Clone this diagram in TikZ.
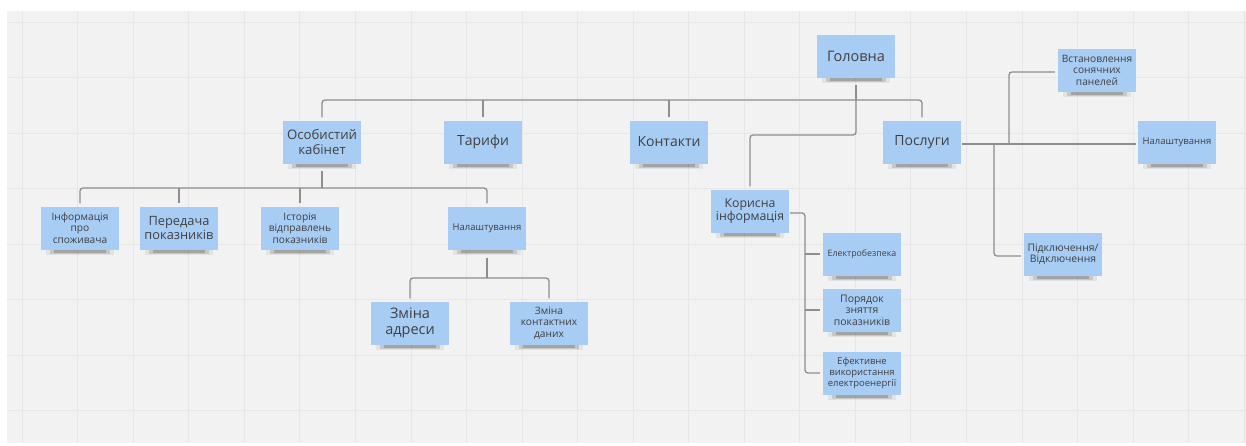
\documentclass[tikz,border=0pt]{standalone}
\usepackage{fontspec}
\setmainfont{Open Sans}
\usetikzlibrary{calc}
\definecolor{canvas}{HTML}{F2F2F2}
\definecolor{gridc}{HTML}{E7E7E7}
\definecolor{sticky}{HTML}{A8CDF5}
\definecolor{txt}{HTML}{404040}
\definecolor{linec}{HTML}{8E8E8E}
\pgfdeclarelayer{bg}
\pgfsetlayers{bg,main}
\tikzset{
  note/.style={rectangle, fill=sticky, minimum width=78pt, minimum height=43pt,
    inner sep=1pt, align=center, text=txt},
  fbig/.style={font=\fontsize{14}{16}\selectfont},
  fmid/.style={font=\fontsize{12.8}{14}\selectfont},
  fsmall/.style={font=\fontsize{10.2}{11.5}\selectfont},
  fset/.style={font=\fontsize{9.5}{11}\selectfont},
  ftiny/.style={font=\fontsize{8.8}{10.5}\selectfont},
  conn/.style={draw=linec, line width=1.3pt, rounded corners=3pt},
  gridline/.style={draw=gridc, line width=0.7pt}
}
\begin{document}
\begin{tikzpicture}[x=1pt,y=-1pt]
\useasboundingbox (0,0) rectangle (1246,445);
\begin{pgfonlayer}{bg}
  \fill[white] (0,0) rectangle (1246,445);
  \fill[canvas] (7,11) rectangle (1246,443);
  \foreach \i in {0,...,22} {\draw[gridline] ({22+55.55*\i},11) -- ({22+55.55*\i},443);}
  \foreach \j in {0,...,7} {\draw[gridline] (7,{22+55.5*\j}) -- (1246,{22+55.5*\j});}
\end{pgfonlayer}

% nodes
\node[note,font=\fontsize{14.5}{16}\selectfont] (home) at (856,56) {Головна};
\node[note,font=\fontsize{13.2}{14.3}\selectfont] (cab) at (322,142) {Особистий\\кабінет};
\node[note,fbig] (tar) at (483,142) {Тарифи};
\node[note,fbig] (con) at (669,142) {Контакти};
\node[note,fbig] (srv) at (922,142) {Послуги};
\node[note,font=\fontsize{12.3}{13.5}\selectfont] (useful) at (750,211) {Корисна\\інформація};
\node[note,fsmall] (info) at (80,228) {Інформація\\про\\споживача};
\node[note,fmid] (send) at (179,228) {Передача\\показників};
\node[note,fsmall] (hist) at (300,228) {Історія\\відправлень\\показників};
\node[note,fset] (set) at (487,228) {Налаштування};
\node[note,font=\fontsize{14.5}{16}\selectfont] (addr) at (410,323) {Зміна\\адреси};
\node[note,fsmall] (cdata) at (549,323) {Зміна\\контактних\\даних};
\node[note,ftiny] (elsafe) at (862,254) {Електробезпека};
\node[note,font=\fontsize{10.4}{11.5}\selectfont] (order) at (862,310) {Порядок\\зняття\\показників};
\node[note,font=\fontsize{9.5}{11}\selectfont] (eff) at (862,373) {Ефективне\\використання\\електроенергії};
\node[note,fsmall] (solar) at (1097,70) {Встановлення\\сонячних\\панелей};
\node[note,fset] (srvset) at (1177,142) {Налаштування};
\node[note,font=\fontsize{10.4}{11.5}\selectfont] (conn) at (1063,254) {Підключення/\\Відключення};

% helper coordinates
\coordinate (bus1) at (0,100);
\coordinate (bus2) at (0,135);
\coordinate (bus3) at (0,188);
\coordinate (bus4) at (0,278);
\coordinate (uv) at (805,0);
\coordinate (sv1) at (994,0);
\coordinate (sv2) at (1009,0);

\begin{pgfonlayer}{bg}
  % shadows
  \foreach \n in {home,cab,tar,con,srv,useful,info,send,hist,set,addr,cdata,elsafe,order,eff,solar,srvset,conn} {
    \fill[black,opacity=0.06] ([xshift=5pt]\n.south west) rectangle ([xshift=-5pt,yshift=-5pt]\n.south east);
    \fill[black,opacity=0.12] ([xshift=9pt]\n.south west) rectangle ([xshift=-9pt,yshift=-4pt]\n.south east);
    \fill[black,opacity=0.18] ([xshift=13pt]\n.south west) rectangle ([xshift=-13pt,yshift=-2.8pt]\n.south east);
  }
  % connectors
  \draw[conn] ([yshift=-7pt]home.south) -- (home.south |- bus1);
  \draw[conn] ([yshift=3pt]cab.north) -- (cab.north |- bus1) -- (srv.north |- bus1) -- ([yshift=3pt]srv.north);
  \draw[conn] ([yshift=3pt]tar.north) -- (tar.north |- bus1);
  \draw[conn] ([yshift=3pt]con.north) -- (con.north |- bus1);
  \draw[conn] (home.south |- bus1) -- (home.south |- bus2) -- (useful.north |- bus2) -- ([yshift=3pt]useful.north);

  \draw[conn] ([yshift=-7pt]cab.south) -- (cab.south |- bus3);
  \draw[conn] ([yshift=3pt]info.north) -- (info.north |- bus3) -- (set.north |- bus3) -- ([yshift=3pt]set.north);
  \draw[conn] ([yshift=3pt]send.north) -- (send.north |- bus3);
  \draw[conn] ([yshift=3pt]hist.north) -- (hist.north |- bus3);

  \draw[conn] ([yshift=-8pt]set.south) -- (set.south |- bus4);
  \draw[conn] ([yshift=3pt]addr.north) -- (addr.north |- bus4) -- (cdata.north |- bus4) -- ([yshift=3pt]cdata.north);

  \draw[conn] ([xshift=1pt,yshift=-2pt]useful.east) -- ([yshift=-2pt]uv |- useful.east) -- (uv |- eff.west) -- ([xshift=-3pt]eff.west);
  \draw[conn] (uv |- elsafe.west) -- ([xshift=-3pt]elsafe.west);
  \draw[conn] (uv |- order.west) -- ([xshift=-3pt]order.west);

  \draw[conn] ([xshift=1pt,yshift=-2pt]srv.east) -- ([xshift=-2pt,yshift=-2pt]srvset.west);
  \draw[conn] ([yshift=-2pt]sv1 |- srv.east) -- ([yshift=-2pt]sv1 |- conn.west) -- ([xshift=-3pt,yshift=-2pt]conn.west);
  \draw[conn] ([yshift=-2pt]sv2 |- srv.east) -- ([yshift=-2pt]sv2 |- solar.west) -- ([xshift=-3pt,yshift=-2pt]solar.west);
\end{pgfonlayer}
\end{tikzpicture}
\end{document}
